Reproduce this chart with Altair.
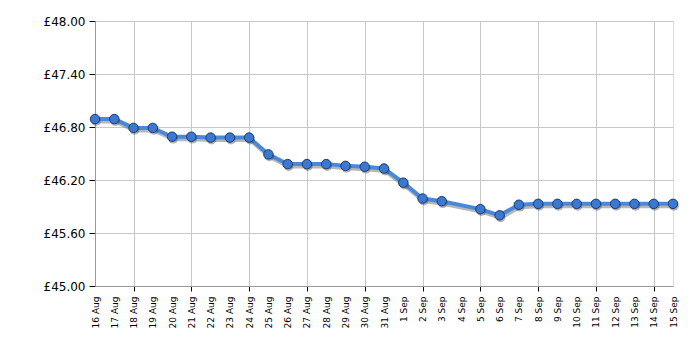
import altair as alt
import pandas as pd

all_days = ["16 Aug", "17 Aug", "18 Aug", "19 Aug", "20 Aug", "21 Aug", "22 Aug", "23 Aug",
            "24 Aug", "25 Aug", "26 Aug", "27 Aug", "28 Aug", "29 Aug", "30 Aug", "31 Aug",
            "1 Sep", "2 Sep", "3 Sep", "4 Sep", "5 Sep", "6 Sep", "7 Sep", "8 Sep", "9 Sep",
            "10 Sep", "11 Sep", "12 Sep", "13 Sep", "14 Sep", "15 Sep"]
grid_days = ["18 Aug", "21 Aug", "24 Aug", "27 Aug", "30 Aug", "2 Sep", "5 Sep", "8 Sep",
             "11 Sep", "14 Sep"]

price_days = ["16 Aug", "17 Aug", "18 Aug", "19 Aug", "20 Aug", "21 Aug", "22 Aug", "23 Aug",
              "24 Aug", "25 Aug", "26 Aug", "27 Aug", "28 Aug", "29 Aug", "30 Aug", "31 Aug",
              "1 Sep", "2 Sep", "3 Sep", "5 Sep", "6 Sep", "7 Sep", "8 Sep", "9 Sep",
              "10 Sep", "11 Sep", "12 Sep", "13 Sep", "14 Sep", "15 Sep"]
prices = [46.89, 46.89, 46.79, 46.79, 46.69, 46.69, 46.68, 46.68,
          46.68, 46.49, 46.38, 46.38, 46.38, 46.36, 46.35, 46.33,
          46.17, 45.99, 45.96, 45.87, 45.80, 45.92, 45.93, 45.93,
          45.93, 45.93, 45.93, 45.93, 45.93, 45.93]
y_ticks = [45.0, 45.6, 46.2, 46.8, 47.4, 48.0]

df = pd.DataFrame({"day": price_days, "price": prices})

grid_list = "[" + ",".join("'" + d + "'" for d in grid_days) + "]"
is_grid = "indexof(" + grid_list + ", datum.value) >= 0"

x_enc = alt.X(
    "day:O",
    scale=alt.Scale(type="point", domain=all_days, padding=0),
    axis=alt.Axis(
        title=None,
        labelAngle=-90,
        labelFont="DejaVu Sans",
        labelFontSize=9,
        labelColor="#000000",
        labelPadding=5,
        tickSize=5,
        tickColor="#000000",
        tickOpacity={"condition": {"test": is_grid, "value": 1}, "value": 0},
        grid=True,
        gridColor="#c8c8c8",
        gridOpacity={"condition": {"test": is_grid, "value": 1}, "value": 0},
        domainColor="#999999",
    ),
)
y_enc = alt.Y(
    "price:Q",
    scale=alt.Scale(domain=[45, 48], nice=False, zero=False),
    axis=alt.Axis(
        title=None,
        values=y_ticks,
        labelExpr="'£' + format(datum.value, '.2f')",
        labelFont="DejaVu Sans",
        labelFontSize=12,
        labelColor="#000000",
        labelPadding=4,
        tickSize=6,
        tickColor="#000000",
        gridColor="#c8c8c8",
        domainColor="#999999",
    ),
)

base = alt.Chart(df).encode(x=x_enc, y=y_enc)

shadow = base.mark_line(color="#606060", strokeWidth=4, opacity=0.45, yOffset=2.5, xOffset=1)
line = base.mark_line(color="#4a88dc", strokeWidth=4)
pt_shadow = base.mark_circle(size=95, color="#404040", opacity=0.4, yOffset=2, xOffset=1)
points = base.mark_point(filled=True, size=90, color="#3a78d2", stroke="#1e3c6e",
                         strokeWidth=1, opacity=1)

chart = alt.layer(shadow, line, pt_shadow, points).properties(
    width=578, height=265,
    autosize=alt.AutoSizeParams(type="none"),
    padding={"left": 95, "top": 21, "right": 27, "bottom": 64},
).configure_view(stroke="#999999").configure(background="white")

chart.save("out.html", embed_options={"renderer": "svg", "actions": False})
